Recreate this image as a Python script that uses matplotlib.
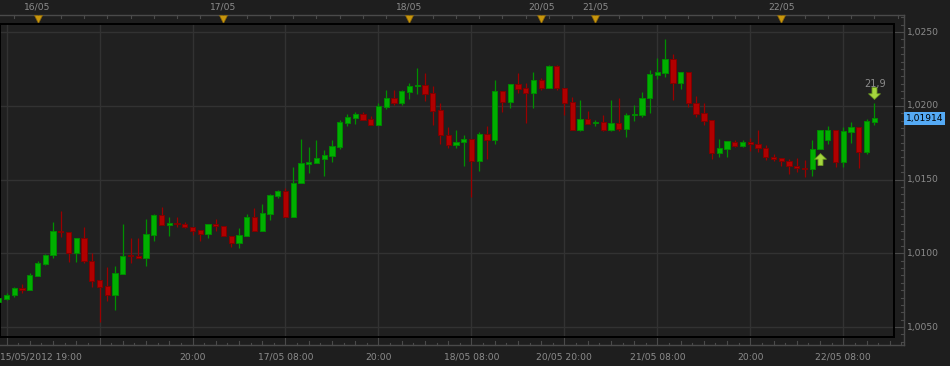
import matplotlib
matplotlib.use("Agg")
import matplotlib.pyplot as plt
import numpy as np
from matplotlib.path import Path
from matplotlib.transforms import offset_copy, blended_transform_factory
from matplotlib.patches import Rectangle

# ---------------- data (hourly EUR/CHF-like candles) ----------------
opens = [1.00669, 1.00690, 1.00717, 1.00764, 1.00751, 1.00846, 1.00927, 1.00988, 1.01151, 1.01144,
         1.01002, 1.01103, 1.00947, 1.00819, 1.00778, 1.00717, 1.00859, 1.00988, 1.00981, 1.00968,
         1.01124, 1.01259, 1.01191, 1.01205, 1.01198, 1.01178, 1.01158, 1.01130, 1.01198, 1.01185,
         1.01117, 1.01069, 1.01117, 1.01246, 1.01151, 1.01266, 1.01388, 1.01422, 1.01246, 1.01476,
         1.01605, 1.01612, 1.01639, 1.01659, 1.01720, 1.01883, 1.01917, 1.01944, 1.01910, 1.01869,
         1.01992, 1.02053, 1.02019, 1.02093, 1.02134, 1.02141, 1.02086, 1.01971, 1.01802, 1.01734,
         1.01754, 1.01775, 1.01625, 1.01808, 1.01768, 1.02100, 1.02025, 1.02147, 1.02120, 1.02086,
         1.02175, 1.02120, 1.02269, 1.02120, 1.02025, 1.01836, 1.01910, 1.01883, 1.01890, 1.01836,
         1.01883, 1.01842, 1.01937, 1.01937, 1.02053, 1.02208, 1.02222, 1.02317, 1.02154, 1.02229,
         1.02019, 1.01951, 1.01903, 1.01680, 1.01707, 1.01754, 1.01727, 1.01754, 1.01741, 1.01714,
         1.01653, 1.01646, 1.01625, 1.01591, 1.01578, 1.01571, 1.01707, 1.01768, 1.01836, 1.01619,
         1.01822, 1.01856, 1.01686, 1.01890]
highs = [1.00703, 1.00730, 1.00771, 1.00791, 1.00866, 1.00947, 1.00995, 1.01212, 1.01286, 1.01144,
         1.01103, 1.01178, 1.01002, 1.00819, 1.00907, 1.00913, 1.01198, 1.01103, 1.01103, 1.01232,
         1.01266, 1.01313, 1.01246, 1.01246, 1.01212, 1.01178, 1.01158, 1.01198, 1.01232, 1.01185,
         1.01117, 1.01171, 1.01266, 1.01307, 1.01334, 1.01402, 1.01429, 1.01442, 1.01585, 1.01775,
         1.01720, 1.01768, 1.01700, 1.01768, 1.01903, 1.01944, 1.01958, 1.01958, 1.01930, 1.02019,
         1.02107, 1.02107, 1.02107, 1.02154, 1.02256, 1.02222, 1.02134, 1.02019, 1.01856, 1.01836,
         1.01802, 1.01775, 1.01822, 1.01863, 1.02175, 1.02100, 1.02147, 1.02222, 1.02154, 1.02229,
         1.02188, 1.02276, 1.02276, 1.02120, 1.02059, 1.02039, 1.01964, 1.01903, 1.01937, 1.02039,
         1.02053, 1.01951, 1.02005, 1.02093, 1.02242, 1.02324, 1.02453, 1.02351, 1.02229, 1.02229,
         1.02066, 1.02019, 1.01903, 1.01775, 1.01761, 1.01768, 1.01768, 1.01781, 1.01836, 1.01734,
         1.01673, 1.01646, 1.01639, 1.01646, 1.01632, 1.01768, 1.01836, 1.01863, 1.01836, 1.01856,
         1.01890, 1.01856, 1.01910, 1.02019]
lows = [1.00662, 1.00683, 1.00703, 1.00730, 1.00751, 1.00846, 1.00920, 1.00968, 1.01110, 1.00941,
        1.00941, 1.00934, 1.00771, 1.00534, 1.00676, 1.00615, 1.00859, 1.00934, 1.00968, 1.00913,
        1.01083, 1.01191, 1.01117, 1.01178, 1.01171, 1.01124, 1.01083, 1.01103, 1.01151, 1.01117,
        1.01042, 1.01035, 1.01117, 1.01151, 1.01151, 1.01225, 1.01375, 1.01246, 1.01246, 1.01476,
        1.01544, 1.01612, 1.01524, 1.01619, 1.01707, 1.01863, 1.01876, 1.01903, 1.01869, 1.01869,
        1.01978, 1.02005, 1.02005, 1.02046, 1.02080, 1.02032, 1.01869, 1.01741, 1.01714, 1.01714,
        1.01591, 1.01381, 1.01558, 1.01639, 1.01741, 1.01958, 1.01985, 1.02086, 1.01883, 1.01985,
        1.02107, 1.02120, 1.02107, 1.01937, 1.01836, 1.01829, 1.01876, 1.01863, 1.01829, 1.01829,
        1.01829, 1.01788, 1.01897, 1.01924, 1.01951, 1.02181, 1.02195, 1.02039, 1.02114, 1.01992,
        1.01924, 1.01869, 1.01639, 1.01653, 1.01653, 1.01720, 1.01720, 1.01693, 1.01686, 1.01632,
        1.01625, 1.01591, 1.01537, 1.01551, 1.01517, 1.01524, 1.01707, 1.01741, 1.01585, 1.01585,
        1.01747, 1.01578, 1.01673, 1.01869]
closes = [1.00697, 1.00717, 1.00764, 1.00751, 1.00852, 1.00934, 1.00988, 1.01151, 1.01144, 1.01002,
          1.01103, 1.00947, 1.00812, 1.00771, 1.00717, 1.00866, 1.00981, 1.00981, 1.00968, 1.01130,
          1.01259, 1.01191, 1.01205, 1.01198, 1.01178, 1.01151, 1.01130, 1.01198, 1.01185, 1.01117,
          1.01069, 1.01124, 1.01246, 1.01151, 1.01273, 1.01395, 1.01422, 1.01246, 1.01476, 1.01612,
          1.01619, 1.01646, 1.01666, 1.01727, 1.01890, 1.01924, 1.01944, 1.01903, 1.01869, 1.01998,
          1.02053, 1.02019, 1.02100, 1.02134, 1.02141, 1.02080, 1.01964, 1.01802, 1.01734, 1.01754,
          1.01775, 1.01625, 1.01808, 1.01768, 1.02100, 1.02025, 1.02147, 1.02114, 1.02086, 1.02175,
          1.02120, 1.02269, 1.02120, 1.02019, 1.01836, 1.01910, 1.01876, 1.01890, 1.01836, 1.01883,
          1.01842, 1.01937, 1.01944, 1.02053, 1.02215, 1.02229, 1.02317, 1.02154, 1.02229, 1.02019,
          1.01944, 1.01897, 1.01680, 1.01714, 1.01761, 1.01727, 1.01754, 1.01741, 1.01714, 1.01653,
          1.01639, 1.01625, 1.01591, 1.01578, 1.01571, 1.01707, 1.01836, 1.01836, 1.01619, 1.01829,
          1.01856, 1.01686, 1.01897, 1.01914]

day_marker_idx = [5, 29, 53, 70, 77, 101]
day_marker_labels = ["16/05", "17/05", "18/05", "20/05", "21/05", "22/05"]
time_label_idx = [0, 25, 37, 49, 61, 73, 85, 97, 109]
time_labels = ["15/05/2012 19:00", "20:00", "17/05 08:00", "20:00", "18/05 08:00",
               "20/05 20:00", "21/05 08:00", "20:00", "22/05 08:00"]
grid_idx = [1, 13, 25, 37, 49, 61, 73, 85, 97, 109]
price_ticks = [1.0050, 1.0100, 1.0150, 1.0200, 1.0250]
price_tick_labels = ["1,0050", "1,0100", "1,0150", "1,0200", "1,0250"]
last_price_label = "1,01914"
up_signal_idx = 106
down_signal_idx = 113
down_signal_text = "21,9"

# ---------------- styling / layout ----------------
W, H = 950, 366
BG = "#1e1e1e"
PLOT_BG = "#202020"
GRID = "#323232"
FRAME = "#4a4a4a"
TXT = "#8c8c8c"
G_FILL, G_EDGE, G_WICK = "#00b000", "#008a00", "#009000"
R_FILL, R_EDGE, R_WICK = "#b00000", "#800000", "#9a0000"
FS = 6.6

step_px = 7.748      # horizontal pixels per candle
x0_px = -1.2         # pixel position of candle 0
py_top, py_per = 32.0, 73.75 / 0.005   # pixel row of 1.0250, pixels per price unit


def px_to_idx(px):
    return (px - x0_px) / step_px


def py_to_price(py):
    return 1.0250 - (py - py_top) / py_per


fig = plt.figure(figsize=(W / 100, H / 100), dpi=100, facecolor=BG)

# outer frame axes (ticks)
o_l, o_r, o_t, o_b = 0, 904, 15, 345
axo = fig.add_axes([o_l / W, 1 - o_b / H, (o_r - o_l) / W, (o_b - o_t) / H])
axo.set_facecolor(BG)
axo.set_xlim(px_to_idx(o_l), px_to_idx(o_r))
axo.set_ylim(py_to_price(o_b), py_to_price(o_t))
for s in ["left"]:
    axo.spines[s].set_visible(False)
for s in ["top", "right", "bottom"]:
    axo.spines[s].set_color(FRAME)
    axo.spines[s].set_linewidth(1.0)
axo.set_xticks([])
axo.set_yticks([])

# inner plot axes
i_l, i_r, i_t, i_b = 0, 893.5, 24, 336.5
ax = fig.add_axes([i_l / W, 1 - i_b / H, (i_r - i_l) / W, (i_b - i_t) / H])
ax.set_facecolor(PLOT_BG)
ax.set_xlim(px_to_idx(i_l), px_to_idx(i_r))
ax.set_ylim(py_to_price(i_b), py_to_price(i_t))
for s in ax.spines.values():
    s.set_color("#000000")
    s.set_linewidth(1.4)
ax.set_xticks([])
ax.set_yticks([])

# grid
for g in grid_idx:
    ax.axvline(g, color=GRID, lw=1.0, zorder=0)
for p in price_ticks:
    ax.axhline(p, color=GRID, lw=1.0, zorder=0)

# candles
o = np.array(opens); h = np.array(highs); l = np.array(lows); c = np.array(closes)
idx = np.arange(len(o))
up = c >= o
ax.vlines(idx[up], l[up], h[up], color=G_WICK, lw=0.9, zorder=2)
ax.vlines(idx[~up], l[~up], h[~up], color=R_WICK, lw=0.9, zorder=2)
bottoms = np.minimum(o, c)
heights = np.maximum(np.abs(c - o), 0.00009)
ax.bar(idx[up], heights[up], bottom=bottoms[up], width=0.68, color=G_FILL,
       edgecolor=G_EDGE, linewidth=0.7, zorder=3)
ax.bar(idx[~up], heights[~up], bottom=bottoms[~up], width=0.68, color=R_FILL,
       edgecolor=R_EDGE, linewidth=0.7, zorder=3)

# signal arrows
up_arrow = Path([(0, 1), (1, 0.05), (0.42, 0.05), (0.42, -1), (-0.42, -1), (-0.42, 0.05), (-1, 0.05), (0, 1)],
                [Path.MOVETO] + [Path.LINETO] * 6 + [Path.CLOSEPOLY])
down_arrow = Path([(x, -y) for x, y in up_arrow.vertices], up_arrow.codes)
t_up = offset_copy(ax.transData, fig=fig, x=0, y=-10, units="dots")
ax.plot([up_signal_idx], [lows[up_signal_idx]], marker=up_arrow, markersize=8.5,
        color="#a6d63e", markeredgecolor="#6e9e22", markeredgewidth=0.6, transform=t_up, zorder=5,
        clip_on=False)
t_dn = offset_copy(ax.transData, fig=fig, x=0, y=9.5, units="dots")
ax.plot([down_signal_idx], [highs[down_signal_idx]], marker=down_arrow, markersize=8.5,
        color="#a6d63e", markeredgecolor="#6e9e22", markeredgewidth=0.6, transform=t_dn, zorder=5,
        clip_on=False)
t_txt = offset_copy(ax.transData, fig=fig, x=1, y=19, units="dots")
ax.text(down_signal_idx, highs[down_signal_idx], down_signal_text, transform=t_txt,
        color=TXT, fontsize=FS + 0.4, ha="center", va="center", zorder=6)

# ---- outer frame ticks ----
bt_top = blended_transform_factory(axo.transData, axo.transAxes)
frame_h = o_b - o_t
# top ticks every 3 candles
for k in np.arange(2, 117, 3):
    axo.plot([k, k], [1, 1 - 3 / frame_h], color=FRAME, lw=0.8, transform=bt_top, clip_on=False)
# bottom ticks every 1.5 candles, alternating
for j, k in enumerate(np.arange(1, 117, 1.5)):
    if (k - 1) % 12 == 0:
        ln = 9
    elif j % 2 == 0:
        ln = 4
    else:
        ln = 2
    axo.plot([k, k], [0, ln / frame_h], color=FRAME, lw=0.8, transform=bt_top, clip_on=False)

# right ticks
bt_right = blended_transform_factory(axo.transAxes, axo.transData)
frame_w = o_r - o_l
for p in np.arange(1.0040, 1.0262, 0.0005):
    is_major = any(abs(p - q) < 1e-7 for q in price_ticks)
    ln = 11 if is_major else 3.3
    axo.plot([1, 1 - ln / frame_w], [p, p], color=FRAME, lw=0.8, transform=bt_right, clip_on=False)

# day markers on top
for k, lab in zip(day_marker_idx, day_marker_labels):
    axo.plot([k], [1 - 3.5 / frame_h], marker="v", markersize=6, color="#c8960c",
             markeredgecolor="#8a6508", markeredgewidth=0.5, transform=bt_top, clip_on=False, zorder=5)
    axo.plot([k, k], [1, 1 - 9 / frame_h], color="#111111", lw=0.9, transform=bt_top,
             clip_on=False, zorder=4)
    axo.text(k, 1 + 8 / frame_h, lab, transform=bt_top, ha="center", va="center",
             color=TXT, fontsize=FS)

# bottom time labels
for k, lab in zip(time_label_idx, time_labels):
    if k == 0:
        fig.text(0.5 / W, 1 - 357.5 / H, lab, ha="left", va="center", color=TXT, fontsize=FS)
    else:
        axo.text(k, -12.5 / frame_h, lab, transform=bt_top, ha="center", va="center",
                 color=TXT, fontsize=FS)

# right price labels
for p, lab in zip(price_ticks, price_tick_labels):
    axo.text(1 + 3 / frame_w, p, lab, transform=bt_right, ha="left", va="center",
             color=TXT, fontsize=FS)

# last price box
last = closes[-1]
bx0 = 1 + 0.5 / frame_w
axo.add_patch(Rectangle((bx0, last - 6.7 / py_per), 40 / frame_w, 13.4 / py_per,
                        transform=bt_right, facecolor="#55aaf5", edgecolor="none",
                        clip_on=False, zorder=6))
axo.text(1 + 20.5 / frame_w, last, last_price_label, transform=bt_right, ha="center",
         va="center", color="#000000", fontsize=FS, zorder=7)

fig.savefig("out.png", dpi=100, facecolor=BG)
